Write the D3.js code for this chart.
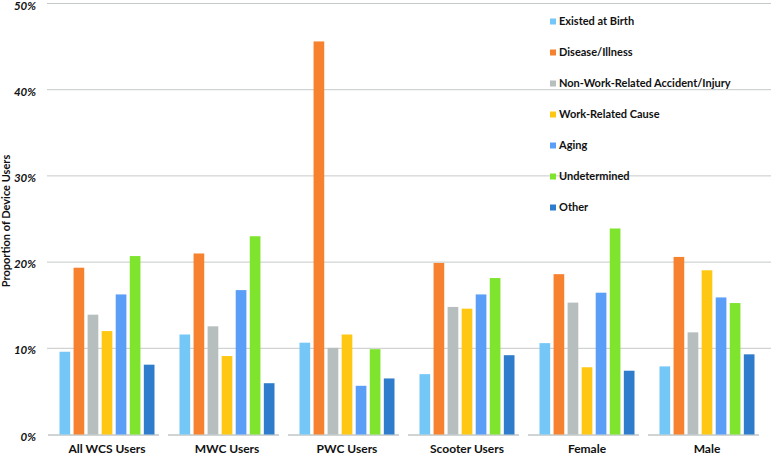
<!DOCTYPE html>
<html>
<head>
<meta charset="utf-8">
<script src="https://cdn.jsdelivr.net/npm/d3@7"></script>
<style>
  body { margin: 0; background: #fff; }
  svg { font-family: Lato, "Open Sans", sans-serif; font-weight: 700; }
</style>
</head>
<body>
<div class="chart"></div>
<script>
const width = 771;
const height = 456;

const groups = ["All WCS Users", "MWC Users", "PWC Users", "Scooter Users", "Female", "Male"];
const causes = ["Existed at Birth", "Disease/Illness", "Non-Work-Related Accident/Injury",
  "Work-Related Cause", "Aging", "Undetermined", "Other"];
const colors = ["#74c7f7", "#f6812e", "#b7bebe", "#fec714", "#5a9ef7", "#7ee42e", "#2e7ccb"];

// percent values per group, in cause order
const allWcs = [9.6, 19.35, 13.9, 12.0, 16.25, 20.7, 8.1];
const mwc = [11.6, 21.0, 12.55, 9.1, 16.75, 23.0, 5.95];
const pwc = [10.65, 45.6, 10.05, 11.6, 5.65, 9.9, 6.5];
const scooter = [7.0, 19.9, 14.8, 14.6, 16.25, 18.15, 9.2];
const female = [10.6, 18.6, 15.3, 7.8, 16.45, 23.9, 7.4];
const male = [7.9, 20.6, 11.85, 19.05, 15.9, 15.25, 9.3];
const values = [allWcs, mwc, pwc, scooter, female, male];

const yTicks = [0, 10, 20, 30, 40, 50];

const svg = d3.select(".chart").append("svg")
  .attr("width", width)
  .attr("height", height);

const x0 = d3.scaleBand().domain(groups).range([47, 767]).paddingInner(0).paddingOuter(0);
const x1 = d3.scaleBand().domain(causes).range([12.5, 107.5]).paddingInner(0.24).paddingOuter(0);
const y = d3.scaleLinear().domain([0, 50]).range([434.5, 3.5]);

// gridlines
svg.append("g").selectAll("line").data(yTicks.slice(1)).enter().append("line")
  .attr("x1", 47).attr("x2", width)
  .attr("y1", d => y(d)).attr("y2", d => y(d))
  .attr("stroke", "#c6c9c9").attr("stroke-width", 1);

// y axis labels
const yAxis = d3.axisLeft(y).tickValues(yTicks).tickFormat(d => d + "%").tickSize(0).tickPadding(0);
svg.append("g").attr("transform", "translate(36,2)").call(yAxis)
  .call(g => g.select(".domain").remove())
  .call(g => g.selectAll("text").attr("font-size", 11.5).attr("font-weight", 700)
    .attr("font-style", "italic").attr("fill", "#111").attr("font-family", "Lato, sans-serif"));

svg.append("text")
  .attr("transform", "translate(10,221) rotate(-90)")
  .attr("text-anchor", "middle")
  .attr("font-size", 11)
  .attr("fill", "#111")
  .text("Proportion of Device Users");

// baseline segments
svg.append("g").selectAll("line").data(groups).enter().append("line")
  .attr("x1", d => x0(d) + 1).attr("x2", d => x0(d) + x0.bandwidth() - 8)
  .attr("y1", y(0) + 0.5).attr("y2", y(0) + 0.5)
  .attr("stroke", "#c2c6c6").attr("stroke-width", 1.5);

// bars
const gBars = svg.append("g").selectAll("g").data(groups).enter().append("g")
  .attr("transform", d => `translate(${x0(d)},0)`);
gBars.selectAll("rect").data((d, i) => values[i].map((v, j) => ({ cause: causes[j], v, c: colors[j] })))
  .enter().append("rect")
  .attr("x", d => x1(d.cause))
  .attr("width", x1.bandwidth())
  .attr("y", d => y(d.v))
  .attr("height", d => y(0) - y(d.v))
  .attr("fill", d => d.c);

// x axis labels
const xAxis = d3.axisBottom(x0).tickSize(0).tickPadding(0);
svg.append("g").attr("transform", `translate(0,${y(0) + 10})`).call(xAxis)
  .call(g => g.select(".domain").remove())
  .call(g => g.selectAll("text").attr("font-size", 12).attr("font-weight", 700)
    .attr("fill", "#111").attr("font-family", "Lato, sans-serif"));

// legend
const legend = svg.append("g").selectAll("g").data(causes).enter().append("g")
  .attr("transform", (d, i) => `translate(550,${21.5 + i * 31})`);
legend.append("rect").attr("x", 0).attr("y", -3).attr("width", 6).attr("height", 6)
  .attr("fill", (d, i) => colors[i]);
legend.append("text").attr("x", 9).attr("dy", "0.35em")
  .attr("font-size", 11).attr("fill", "#111")
  .text(d => d);
</script>
</body>
</html>
